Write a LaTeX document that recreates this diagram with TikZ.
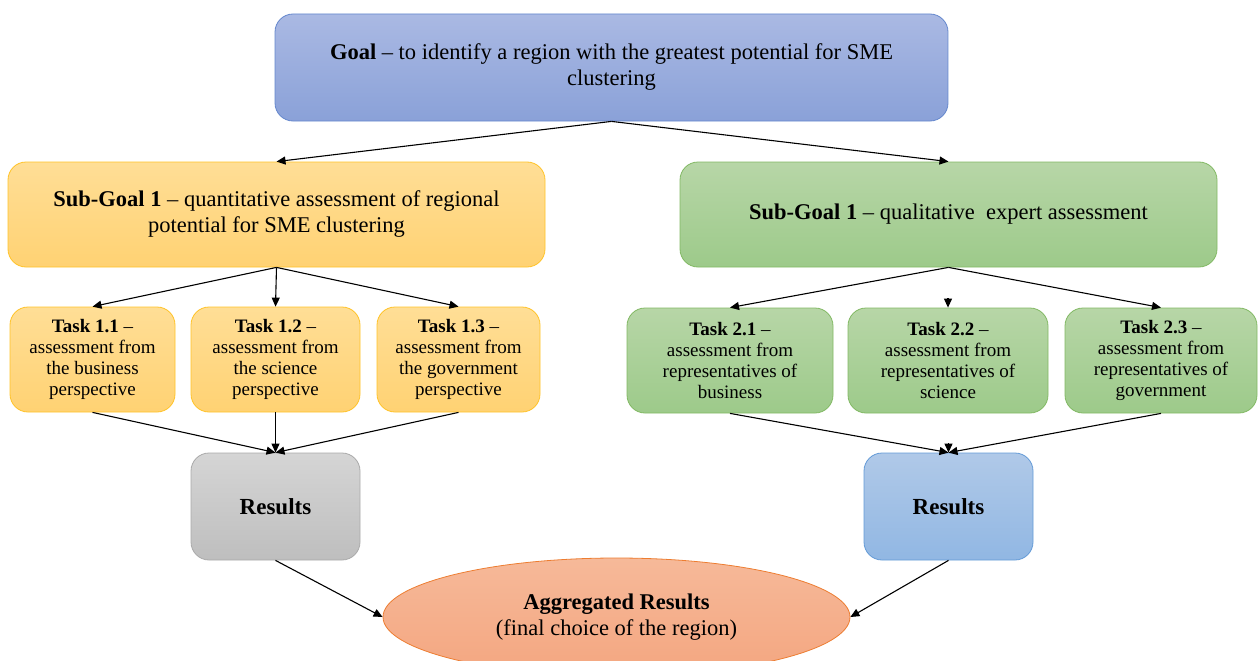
\documentclass[tikz,border=0pt]{standalone}
\usepackage{fontspec}
\setmainfont{LiberationSerif}[Extension=.ttf,UprightFont=*-Regular,BoldFont=*-Bold,ItalicFont=*-Italic,BoldItalicFont=*-BoldItalic]
\usetikzlibrary{shapes.geometric,arrows.meta}
\definecolor{goalT}{RGB}{170,185,227}
\definecolor{goalB}{RGB}{138,161,216}
\definecolor{goalD}{RGB}{100,135,205}
\definecolor{yelT}{RGB}{255,222,150}
\definecolor{yelB}{RGB}{255,210,115}
\definecolor{yelD}{RGB}{255,195,40}
\definecolor{grnT}{RGB}{183,214,167}
\definecolor{grnB}{RGB}{157,202,138}
\definecolor{grnD}{RGB}{130,185,100}
\definecolor{gryT}{RGB}{213,213,213}
\definecolor{gryB}{RGB}{190,190,190}
\definecolor{gryD}{RGB}{170,170,170}
\definecolor{bluT}{RGB}{176,201,232}
\definecolor{bluB}{RGB}{145,183,227}
\definecolor{bluD}{RGB}{100,155,215}
\definecolor{salT}{RGB}{246,185,153}
\definecolor{salB}{RGB}{244,166,128}
\definecolor{salD}{RGB}{237,125,49}
\tikzset{
  box/.style={rectangle, rounded corners=18pt, align=center, inner sep=2pt, line width=0.8pt},
  goalbox/.style={box, top color=goalT, bottom color=goalB, draw=goalD, font=\fontsize{22.5}{26}\selectfont},
  sgy/.style={box, top color=yelT, bottom color=yelB, draw=yelD, font=\fontsize{22.5}{26}\selectfont},
  sgg/.style={box, top color=grnT, bottom color=grnB, draw=grnD, font=\fontsize{22.5}{26}\selectfont},
  tky/.style={box, top color=yelT, bottom color=yelB, draw=yelD, minimum width=#1, minimum height=105pt, font=\fontsize{19}{21}\selectfont},
  tkg/.style={box, top color=grnT, bottom color=grnB, draw=grnD, minimum width=#1, minimum height=105pt, font=\fontsize{19}{21}\selectfont},
  resg/.style={box, top color=gryT, bottom color=gryB, draw=gryD, minimum width=169pt, minimum height=107pt, font=\fontsize{23}{26}\selectfont\bfseries},
  resb/.style={box, top color=bluT, bottom color=bluB, draw=bluD, minimum width=169pt, minimum height=107pt, font=\fontsize{23}{26}\selectfont\bfseries},
  agg/.style={ellipse, top color=salT, bottom color=salB, draw=salD, line width=0.8pt, minimum width=467pt, minimum height=118pt, align=center, font=\fontsize{22.5}{26}\selectfont},
  arr/.style={-{Triangle[length=9pt,width=8pt]}, line width=1.1pt, black}
}
\begin{document}
\begin{tikzpicture}[x=1pt,y=-1pt]
\useasboundingbox (0,0) rectangle (1258,661);
\node[goalbox, minimum width=673pt, minimum height=107pt] (goal) at (611.5,67.5) {\textbf{Goal} -- to identify a region with the greatest potential for SME\\clustering};
\node[sgy, minimum width=537pt, minimum height=105pt] (sg1) at (276.5,214.5) {\textbf{Sub-Goal 1} -- quantitative assessment of regional\\potential for SME clustering};
\node[sgg, minimum width=537pt, minimum height=105pt] (sg2) at (948.5,214.5) {\textbf{Sub-Goal 1} -- qualitative\ \ expert assessment};
\node[tky=165pt] (t11) at (92.5,359.5) {\textbf{Task 1.1} --\\assessment from\\the business\\perspective};
\node[tky=169pt] (t12) at (275.5,359.5) {\textbf{Task 1.2} --\\assessment from\\the science\\perspective};
\node[tky=163pt] (t13) at (458.5,359.5) {\textbf{Task 1.3} --\\assessment from\\the government\\perspective};
\node[tkg=206pt] (t21) at (730,360.5) {\textbf{Task 2.1} --\\assessment from\\representatives of\\business};
\node[tkg=200pt] (t22) at (948,360.5) {\textbf{Task 2.2} --\\assessment from\\representatives of\\science};
\node[tkg=192pt] (t23) at (1161,360.5) {\textbf{Task 2.3} --\\assessment from\\representatives of\\government};
\node[resg] (r1) at (275.5,506.5) {Results};
\node[resb] (r2) at (948.5,506.5) {Results};
\node[agg] (agg) at (616.5,617) {\textbf{Aggregated Results}\\(final choice of the region)};
% arrows
\draw[arr] (goal.south) -- (sg1.north);
\draw[arr] (goal.south) -- (sg2.north);
\draw[arr] (sg1.south) -- (t11.north);
\draw[arr] (sg1.south) -- (t12.north);
\draw[arr] (sg1.south) -- (t13.north);
\draw[arr] (sg2.south) -- (t21.north);
\path (t22.north) ++(0,-9.5) coordinate (t22a);
\draw[arr] (t22a) -- (t22.north);
\draw[arr] (sg2.south) -- (t23.north);
\draw[arr] (t11.south) -- (r1.north);
\draw[arr] (t12.south) -- (r1.north);
\draw[arr] (t13.south) -- (r1.north);
\draw[arr] (t21.south) -- (r2.north);
\path (r2.north) ++(0,-9.5) coordinate (r2a);
\draw[arr] (r2a) -- (r2.north);
\draw[arr] (t23.south) -- (r2.north);
\draw[arr] (r1.south) -- (agg.west);
\draw[arr] (r2.south) -- (agg.east);
\end{tikzpicture}
\end{document}
